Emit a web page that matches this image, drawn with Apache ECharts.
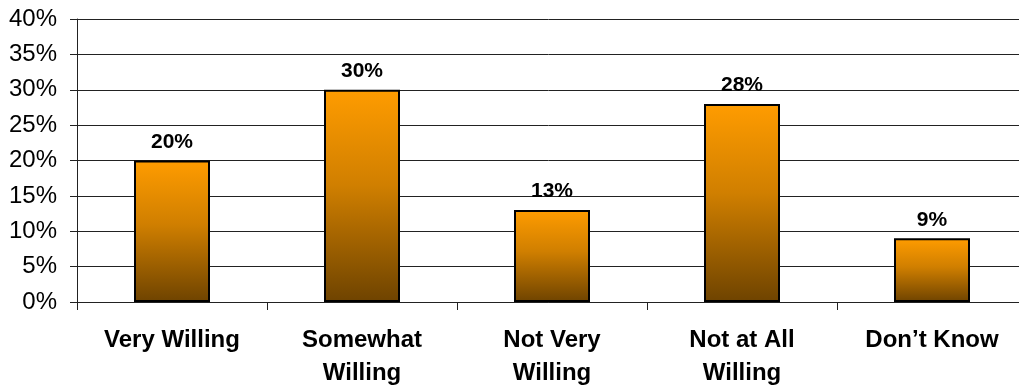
<!DOCTYPE html>
<html>
<head>
<meta charset="utf-8">
<script src="https://cdn.jsdelivr.net/npm/echarts@6/dist/echarts.min.js"></script>
<style>
  html, body { margin: 0; padding: 0; background: #fff; overflow: hidden; }
  #chart { width: 1019px; height: 385px; }
</style>
</head>
<body>
<div id="chart"></div>
<script>
// Survey responses: willingness, share of respondents (%)
const categories = ['Very Willing', 'Somewhat\nWilling', 'Not Very\nWilling', 'Not at All\nWilling', 'Don\u2019t Know'];
const values = [20, 30, 13, 28, 9];
const yTicks = { min: 0, max: 40, interval: 5 };

const FONT = 'Liberation Sans, Arial, sans-serif';

const chart = echarts.init(document.getElementById('chart'));
chart.setOption({
  animation: false,
  // plot area runs slightly past the right edge, so the grid lines bleed off the canvas
  grid: { left: 77, right: -8, top: 19, bottom: 83, outerBoundsMode: 'none' },
  xAxis: {
    type: 'category',
    data: categories,
    axisLine: { lineStyle: { color: '#222', width: 1 } },
    axisTick: { show: true, length: 8, lineStyle: { color: '#222' } },
    axisLabel: {
      margin: 22,
      interval: 0,
      fontFamily: FONT,
      fontWeight: 'bold',
      fontSize: 24,
      lineHeight: 33,
      color: '#000'
    }
  },
  yAxis: {
    type: 'value',
    min: yTicks.min,
    max: yTicks.max,
    interval: yTicks.interval,
    axisLine: { show: true, lineStyle: { color: '#222', width: 1 } },
    axisTick: { show: true, length: 7, lineStyle: { color: '#222' } },
    splitLine: { lineStyle: { color: '#222', width: 1 } },
    axisLabel: {
      margin: 20,
      formatter: '{value}%',
      fontFamily: FONT,
      fontSize: 24,
      color: '#000'
    }
  },
  series: [{
    type: 'bar',
    data: values,
    barWidth: 76,
    itemStyle: {
      borderColor: '#000',
      borderWidth: 2,
      color: new echarts.graphic.LinearGradient(0, 0, 0, 1, [
        { offset: 0, color: '#ff9c00' },
        { offset: 0.45, color: '#d07f00' },
        { offset: 1, color: '#6e4300' }
      ])
    },
    label: {
      show: true,
      position: 'top',
      distance: 8,
      formatter: '{c}%',
      fontFamily: FONT,
      fontWeight: 'bold',
      fontSize: 21,
      color: '#000'
    }
  }]
});
</script>
</body>
</html>
